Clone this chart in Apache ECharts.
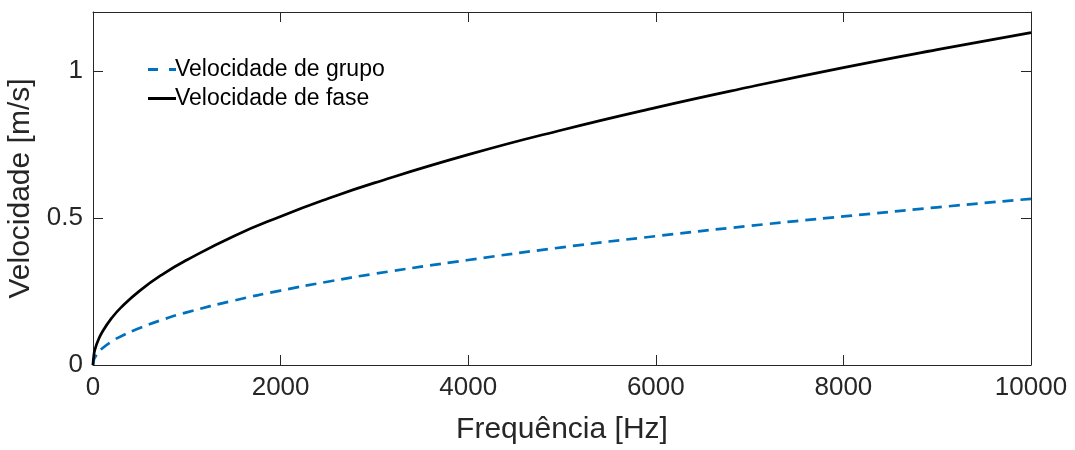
<!DOCTYPE html>
<html>
<head>
<meta charset="utf-8">
<script src="https://cdn.jsdelivr.net/npm/echarts@6/dist/echarts.min.js"></script>
<style>
html,body{margin:0;padding:0;background:#fff;}
#chart{width:1075px;height:450px;}
</style>
</head>
<body>
<div id="chart"></div>
<script>
var freq = [0, 10, 25, 50, 100, 200, 300, 500, 750, 1000, 1500, 2000, 2500, 3000, 4000, 5000, 6000, 7000, 8000, 9000, 10000];
var phaseVel = [0, 0.036, 0.057, 0.080, 0.113, 0.160, 0.196, 0.253, 0.310, 0.357, 0.438, 0.505, 0.565, 0.619, 0.715, 0.799, 0.875, 0.945, 1.011, 1.072, 1.130];
var groupVel = [0, 0.018, 0.028, 0.040, 0.057, 0.080, 0.098, 0.126, 0.155, 0.179, 0.219, 0.253, 0.283, 0.310, 0.357, 0.400, 0.438, 0.473, 0.505, 0.536, 0.565];
var xTicks = [0, 2000, 4000, 6000, 8000, 10000];
var yTicks = [0, 0.5, 1];
var seriesNames = ['Velocidade de grupo', 'Velocidade de fase'];

var FONT = '"Liberation Sans", Arial, Helvetica, sans-serif';
var AX = '#262626';

function pairs(xs, ys){ return xs.map(function(x,i){ return [x, ys[i]]; }); }

var chart = echarts.init(document.getElementById('chart'), null, {renderer:'canvas'});
chart.setOption({
  animation:false,
  backgroundColor:'#fff',
  grid:{left:93, right:44, top:12, bottom:85, containLabel:false, outerBoundsMode:'none'},
  legend:{
    orient:'vertical', left:143, top:53, itemGap:6,
    itemWidth:28, itemHeight:23,
    textStyle:{fontFamily:FONT, fontSize:23, color:'#000', padding:[0,0,0,-6]},
    data:[
      {name:seriesNames[0], icon:'path://M0,0h10v3h-10zM21,0h7v3h-7z', itemStyle:{color:'#0072BD'}},
      {name:seriesNames[1], icon:'path://M0,0h28v3h-28z', itemStyle:{color:'#000000'}}
    ]
  },
  xAxis:[{
    type:'value', min:0, max:10000, interval:2000,
    name:'Frequência [Hz]', nameLocation:'middle', nameGap:50,
    nameTextStyle:{fontFamily:FONT, fontSize:30, color:AX},
    axisLine:{show:true, onZero:false, lineStyle:{color:AX, width:1}},
    axisTick:{show:true, inside:true, length:10, lineStyle:{color:AX}},
    axisLabel:{fontFamily:FONT, fontSize:26, color:AX, margin:10,
      formatter:function(v){ return xTicks.indexOf(v)>=0 ? String(v) : ''; }},
    splitLine:{show:false}
  },{
    type:'value', min:0, max:10000, interval:2000, position:'top',
    axisLine:{show:true, onZero:false, lineStyle:{color:AX, width:1}},
    axisTick:{show:true, inside:true, length:10, lineStyle:{color:AX}},
    axisLabel:{show:false}, splitLine:{show:false}
  }],
  yAxis:[{
    type:'value', min:0, max:1.2, interval:0.5,
    name:'Velocidade [m/s]', nameLocation:'middle', nameGap:53,
    nameTextStyle:{fontFamily:FONT, fontSize:30, color:AX},
    axisLine:{show:true, onZero:false, lineStyle:{color:AX, width:1}},
    axisTick:{show:true, inside:true, length:10, lineStyle:{color:AX}},
    axisLabel:{fontFamily:FONT, fontSize:26, color:AX, margin:10,
      formatter:function(v){ return yTicks.indexOf(v)>=0 ? String(v) : ''; }},
    splitLine:{show:false}
  },{
    type:'value', min:0, max:1.2, interval:0.5, position:'right',
    axisLine:{show:true, onZero:false, lineStyle:{color:AX, width:1}},
    axisTick:{show:true, inside:true, length:10, lineStyle:{color:AX}},
    axisLabel:{show:false}, splitLine:{show:false}
  }],
  series:[{
    name:seriesNames[0], type:'line', smooth:true, symbol:'none',
    xAxisIndex:0, yAxisIndex:0,
    lineStyle:{color:'#0072BD', width:2.7, type:[11,7]},
    itemStyle:{color:'#0072BD'},
    data:pairs(freq, groupVel)
  },{
    name:seriesNames[1], type:'line', smooth:true, symbol:'none',
    xAxisIndex:0, yAxisIndex:0,
    lineStyle:{color:'#000000', width:2.7},
    itemStyle:{color:'#000000'},
    data:pairs(freq, phaseVel)
  }]
});
</script>
</body>
</html>
